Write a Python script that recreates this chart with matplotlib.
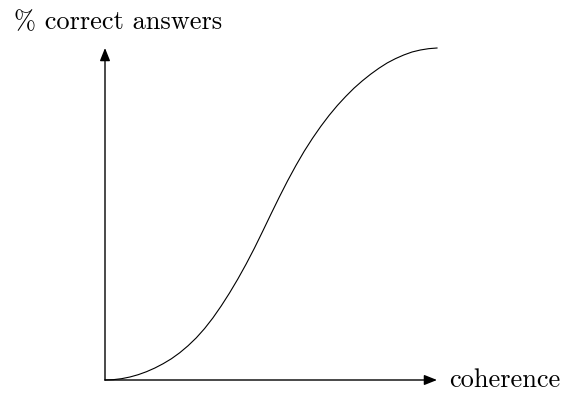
import matplotlib
matplotlib.use("Agg")
import matplotlib.pyplot as plt

# Values (coherence normalised 0..1, % correct normalised 0..100)
coherence = [0.000, 0.025, 0.050, 0.075, 0.100, 0.125, 0.150, 0.175, 0.200, 0.225,
             0.250, 0.275, 0.300, 0.325, 0.350, 0.375, 0.400, 0.425, 0.450, 0.475,
             0.500, 0.525, 0.550, 0.575, 0.600, 0.625, 0.650, 0.675, 0.700, 0.725,
             0.750, 0.775, 0.800, 0.825, 0.850, 0.875, 0.900, 0.925, 0.950, 0.975,
             1.000]
pct_correct = [0.0, 0.1, 0.4, 0.9, 1.6, 2.5, 3.6, 4.9, 6.4, 8.2,
               10.3, 12.7, 15.5, 18.7, 22.3, 26.2, 30.4, 34.9, 39.7, 44.8,
               50.0, 55.1, 60.0, 64.6, 68.9, 72.8, 76.4, 79.7, 82.7, 85.4,
               87.9, 90.1, 92.1, 93.9, 95.5, 96.8, 97.9, 98.8, 99.4, 99.8,
               100.0]

W, H = 561, 393
fig = plt.figure(figsize=(W / 100, H / 100), dpi=100)
fig.patch.set_facecolor("white")

x0, x1 = 105, 437
ytop, ybot = 48, 380
ax = fig.add_axes([x0 / W, 1 - ybot / H, (x1 - x0) / W, (ybot - ytop) / H])
ax.set_xlim(0, 1)
ax.set_ylim(0, 100)
ax.axis("off")

ax.plot(coherence, pct_correct, color="black", lw=0.8, clip_on=False,
        solid_joinstyle="round")

arrow = dict(arrowstyle="-|>,head_length=0.55,head_width=0.22", lw=1.0,
             color="black", shrinkA=0, shrinkB=0, mutation_scale=14)
ax.annotate("", xy=(1, 0), xytext=(0, 0), arrowprops=arrow, annotation_clip=False)
ax.annotate("", xy=(0, 100), xytext=(0, 0), arrowprops=arrow, annotation_clip=False)

fig.text(14 / W, 1 - 29 / H, "% correct answers", family="cmr10", fontsize=19,
         ha="left", va="baseline")
fig.text(449 / W, 1 - 387 / H, "coherence", family="cmr10", fontsize=19,
         ha="left", va="baseline")

fig.savefig("out.png", dpi=100)
